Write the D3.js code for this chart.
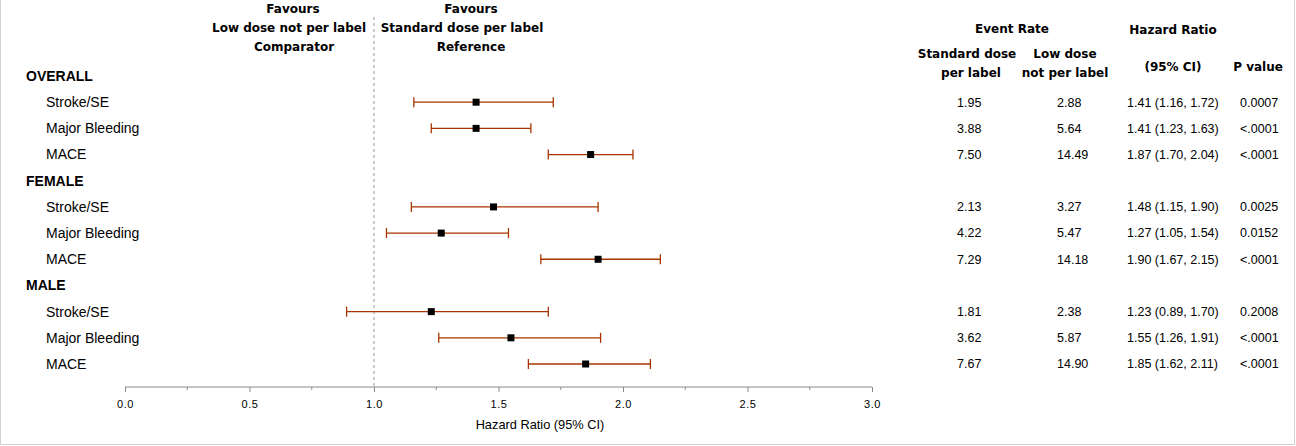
<!DOCTYPE html>
<html>
<head>
<meta charset="utf-8">
<script src="https://cdn.jsdelivr.net/npm/d3@7"></script>
<style>
  body { margin: 0; background: #fff; }
</style>
</head>
<body>
<div id="chart"></div>
<script>
  // data
  const groups = ["OVERALL", "FEMALE", "MALE"]
  const outcomes = ["Stroke/SE", "Major Bleeding", "MACE"]
  const hr    = [1.41, 1.41, 1.87, 1.48, 1.27, 1.90, 1.23, 1.55, 1.85]
  const lower = [1.16, 1.23, 1.70, 1.15, 1.05, 1.67, 0.89, 1.26, 1.62]
  const upper = [1.72, 1.63, 2.04, 1.90, 1.54, 2.15, 1.70, 1.91, 2.11]
  const rateStandard = ["1.95", "3.88", "7.50", "2.13", "4.22", "7.29", "1.81", "3.62", "7.67"]
  const rateLow = ["2.88", "5.64", "14.49", "3.27", "5.47", "14.18", "2.38", "5.87", "14.90"]
  const pValues = ["0.0007", "<.0001", "<.0001", "0.0025", "0.0152", "<.0001", "0.2008", "<.0001", "<.0001"]
  const xTicks = [0, 0.5, 1, 1.5, 2, 2.5, 3]
  const refValue = 1

  const width = 1296, height = 446
  const bodyFont = "'Liberation Sans', Arial, sans-serif"
  const headFont = "'DejaVu Sans', Verdana, sans-serif"
  const barColor = "#a83400"

  const svg = d3.select("#chart").append("svg")
    .attr("width", width)
    .attr("height", height)

  // frame (no top edge)
  svg.append("path")
    .attr("d", `M0.5,0 V444.5 H1294.5 V0`)
    .attr("fill", "none")
    .attr("stroke", "#d0d0d0")

  // rows: group header then its outcomes
  const rows = []
  groups.forEach((g, gi) => {
    rows.push({ label: g, header: true })
    outcomes.forEach((o, oi) => rows.push({ label: o, header: false, i: gi * outcomes.length + oi }))
  })

  const y = d3.scalePoint().domain(d3.range(rows.length)).range([76, 364])
  const x = d3.scaleLinear().domain([0, 3]).range([125, 872])

  // row labels
  svg.append("g")
    .selectAll("text")
    .data(rows)
    .join("text")
      .attr("x", d => d.header ? 26 : 46)
      .attr("y", (d, i) => y(i))
      .attr("dy", "0.35em")
      .attr("font-family", bodyFont)
      .attr("font-size", 14)
      .attr("font-weight", d => d.header ? "bold" : null)
      .attr("fill", "#000")
      .text(d => d.label)

  // reference line
  svg.append("line")
    .attr("x1", x(refValue)).attr("x2", x(refValue))
    .attr("y1", 17).attr("y2", 387)
    .attr("stroke", "#999")
    .attr("stroke-dasharray", "3,3")

  // axis
  const axisY = 387
  const axis = svg.append("g")
    .attr("transform", `translate(0,${axisY})`)
    .call(d3.axisBottom(x).tickValues(xTicks).tickFormat(d3.format(".1f")).tickSize(5).tickPadding(8))
  axis.select(".domain").attr("stroke", "#8a8a8a").attr("d", `M${x(0)},0H${x(3)}`)
  axis.selectAll(".tick line").attr("stroke", "#8a8a8a")
  axis.selectAll(".tick text")
    .attr("font-family", bodyFont)
    .attr("font-size", 11)
    .attr("fill", "#000")
    .attr("letter-spacing", "0.5px")
  // minor ticks
  axis.append("g")
    .selectAll("line")
    .data(d3.range(0.25, 3, 0.5))
    .join("line")
      .attr("x1", d => x(d)).attr("x2", d => x(d))
      .attr("y1", 0).attr("y2", 3)
      .attr("stroke", "#8a8a8a")

  svg.append("text")
    .attr("x", 540)
    .attr("y", 425)
    .attr("dy", "0.35em")
    .attr("text-anchor", "middle")
    .attr("font-family", bodyFont)
    .attr("font-size", 12.8)
    .text("Hazard Ratio (95% CI)")

  // error bars
  const data = rows.map((r, i) => ({ ...r, row: i })).filter(r => !r.header)
  const bars = svg.append("g")
    .selectAll("g")
    .data(data)
    .join("g")
      .attr("transform", d => `translate(0,${y(d.row)})`)

  bars.append("line")
    .attr("x1", d => x(lower[d.i])).attr("x2", d => x(upper[d.i]))
    .attr("stroke", barColor)
    .attr("stroke-width", 1.3)
  bars.append("line")
    .attr("x1", d => x(lower[d.i])).attr("x2", d => x(lower[d.i]))
    .attr("y1", -5).attr("y2", 5)
    .attr("stroke", barColor)
    .attr("stroke-width", 1.3)
  bars.append("line")
    .attr("x1", d => x(upper[d.i])).attr("x2", d => x(upper[d.i]))
    .attr("y1", -5).attr("y2", 5)
    .attr("stroke", barColor)
    .attr("stroke-width", 1.3)
  bars.append("rect")
    .attr("x", d => x(hr[d.i]) - 3.5)
    .attr("y", -3.5)
    .attr("width", 7)
    .attr("height", 7)
    .attr("fill", "#000")

  // headers
  const headers = [
    { t: "Favours", x: 293, y: 9 },
    { t: "Low dose not per label", x: 289, y: 28 },
    { t: "Comparator", x: 294, y: 47 },
    { t: "Favours", x: 471, y: 9 },
    { t: "Standard dose per label", x: 462, y: 28 },
    { t: "Reference", x: 471, y: 47 },
    { t: "Event Rate", x: 1012, y: 29 },
    { t: "Hazard Ratio", x: 1173, y: 30 },
    { t: "Standard dose", x: 967, y: 54 },
    { t: "per label", x: 971, y: 73 },
    { t: "Low dose", x: 1065, y: 54 },
    { t: "not per label", x: 1065, y: 73 },
    { t: "(95% CI)", x: 1173, y: 67 },
    { t: "P value", x: 1258, y: 67 }
  ]
  svg.append("g")
    .selectAll("text")
    .data(headers)
    .join("text")
      .attr("x", d => d.x)
      .attr("y", d => d.y)
      .attr("dy", "0.35em")
      .attr("text-anchor", "middle")
      .attr("font-family", headFont)
      .attr("font-weight", "bold")
      .attr("font-size", 12)
      .text(d => d.t)

  // table columns
  const f = d3.format(".2f")
  const columns = [
    { x: 957, text: i => rateStandard[i] },
    { x: 1057, text: i => rateLow[i] },
    { x: 1127, text: i => `${f(hr[i])} (${f(lower[i])}, ${f(upper[i])})` },
    { x: 1240, text: i => pValues[i] }
  ]
  columns.forEach(c => {
    svg.append("g")
      .selectAll("text")
      .data(data)
      .join("text")
        .attr("x", c.x)
        .attr("y", d => y(d.row))
        .attr("dy", "0.35em")
        .attr("font-family", bodyFont)
        .attr("font-size", 12.5)
        .text(d => c.text(d.i))
  })
</script>
</body>
</html>
